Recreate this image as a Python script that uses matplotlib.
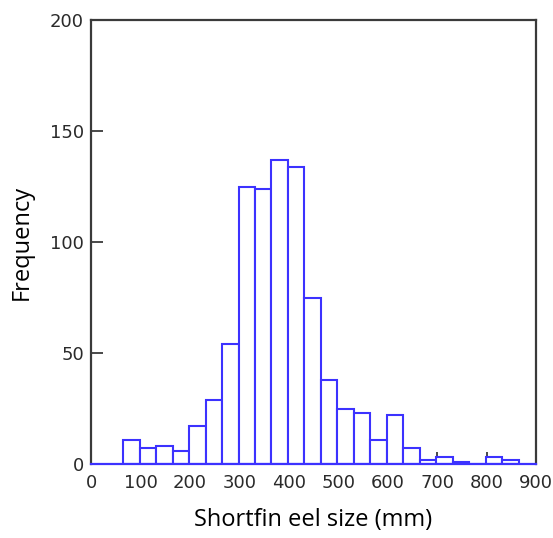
import numpy as np
import matplotlib
matplotlib.use("Agg")
import matplotlib.pyplot as plt

# Histogram of shortfin eel lengths: 24 bins of equal width from 65 to 865 mm
bin_start = 65
bin_end = 865
counts = [11, 7, 8, 6, 17, 29, 54, 125, 124, 137, 134, 75,
          38, 25, 23, 11, 22, 7, 2, 3, 1, 0, 3, 2]
x_ticks = [0, 100, 200, 300, 400, 500, 600, 700, 800, 900]
y_ticks = [0, 50, 100, 150, 200]

bar_color = "#3c32ff"
axis_color = "#3a3a3a"

edges = np.linspace(bin_start, bin_end, len(counts) + 1)
widths = np.diff(edges)

fig = plt.figure(figsize=(5.53, 5.38), dpi=100)
ax = fig.add_axes([0.1646, 0.1375, 0.8047, 0.8253])

ax.bar(edges[:-1], counts, width=widths, align="edge",
       facecolor="white", edgecolor=bar_color, linewidth=1.5, zorder=2)

ax.set_xlim(0, 900)
ax.set_ylim(0, 200)
ax.set_xticks(x_ticks)
ax.set_yticks(y_ticks)
ax.set_axisbelow(True)

ax.tick_params(direction="in", length=8.5, width=1.3, color=axis_color,
               labelsize=13, labelcolor="#2a2a2a", pad=5)
ax.tick_params(axis="x", pad=7)

for side in ["left", "top", "right"]:
    ax.spines[side].set_color(axis_color)
    ax.spines[side].set_linewidth(1.6)
ax.spines["bottom"].set_color(bar_color)
ax.spines["bottom"].set_linewidth(1.6)
ax.spines["bottom"].set_zorder(3)

label_font = {"family": ["Open Sans", "DejaVu Sans"], "size": 17, "color": "black"}
ax.set_xlabel("Shortfin eel size (mm)", fontdict=label_font, labelpad=12)
ax.set_ylabel("Frequency", fontdict=label_font, labelpad=12)

fig.savefig("out.png", dpi=100, facecolor="white")
